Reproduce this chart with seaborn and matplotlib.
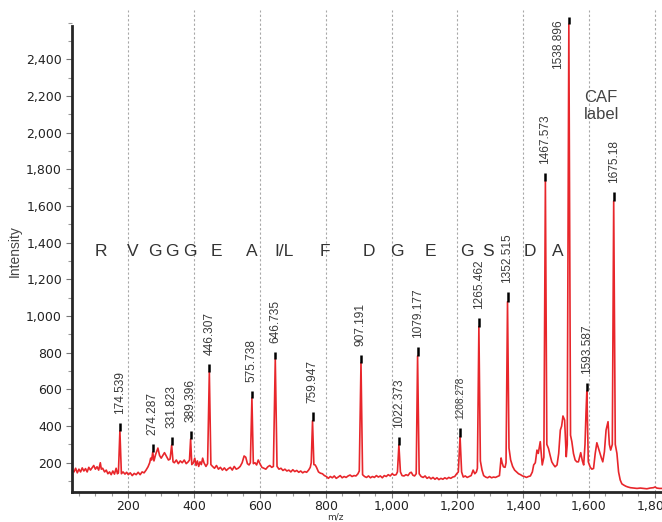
import numpy as np
import pandas as pd
import seaborn as sns
from matplotlib import pyplot as plt
from matplotlib.ticker import FuncFormatter, MultipleLocator

# spectrum trace (m/z, intensity)
mz = [28, 35, 40, 45, 50, 55, 60, 65, 70, 75, 80, 85, 90, 95, 100, 105, 110, 115, 118, 122,
      128, 133, 138, 143, 148, 153, 158, 163, 167, 170, 174.5, 179,
      184, 190, 195, 200, 206, 212, 218, 224, 230, 236, 242, 248, 254, 260, 265, 268, 271,
      274.3, 278, 283, 290, 295, 300, 305, 310, 316, 322, 327,
      331.8, 336, 340, 346, 352, 358, 364, 370, 376, 382, 386,
      389.4, 393, 398, 402, 406, 410, 414, 418, 422, 426, 430, 436, 441,
      446.3, 451, 456, 462, 468, 474, 480, 486, 492, 498, 504, 510, 516, 522, 528, 534, 540, 546, 552, 557, 562, 567, 571,
      575.7, 580, 585, 590, 595, 600, 606, 612, 618, 624, 630, 636, 641,
      646.7, 652, 658, 664, 670, 676, 682, 688, 694, 700, 706, 712, 718, 724, 730, 736, 742, 748, 753, 756,
      759.9, 764, 768, 772, 778, 784, 790, 796, 802, 808, 814, 820, 826, 832, 838, 844, 850, 856, 862, 868, 874, 880, 886, 892, 898, 902,
      907.2, 912, 918, 924, 930, 936, 942, 948, 954, 960, 966, 972, 978, 984, 990, 996, 1002, 1008, 1014, 1018,
      1022.4, 1027, 1032, 1038, 1044, 1050, 1056, 1060, 1065, 1070, 1075,
      1079.2, 1084, 1090, 1096, 1102, 1108, 1114, 1120, 1126, 1132, 1138, 1144, 1150, 1156, 1162, 1168, 1174, 1180, 1186, 1192, 1198, 1203,
      1208.3, 1213, 1218, 1224, 1230, 1236, 1242, 1248, 1253, 1258, 1261,
      1265.5, 1270, 1275, 1280, 1286, 1292, 1298, 1304, 1310, 1316, 1322, 1328, 1333, 1336, 1340, 1345, 1348,
      1352.5, 1357, 1362, 1368, 1374, 1380, 1386, 1392, 1398, 1404, 1410, 1416, 1422, 1428, 1432, 1437, 1442, 1446, 1452, 1458, 1463,
      1467.6, 1472, 1477, 1482, 1487, 1492, 1497, 1503, 1508, 1513, 1517, 1521, 1526, 1531, 1534,
      1538.9, 1544, 1548, 1553, 1558, 1563, 1568, 1575, 1580, 1584, 1588, 1591,
      1593.6, 1598, 1604, 1609, 1614, 1619, 1624, 1632, 1638, 1642, 1647, 1652, 1658, 1662, 1666, 1671,
      1675.2, 1680, 1685, 1690, 1695, 1700, 1706, 1712, 1718, 1726, 1736, 1746, 1756, 1766, 1776, 1786, 1796, 1801, 1806, 1814, 1822]
intensity = [160, 150, 170, 145, 165, 150, 172, 155, 168, 150, 175, 160, 172, 185, 165, 178, 160, 200, 165, 170,
             150, 160, 140, 150, 135, 155, 138, 170, 140, 145, 373, 140,
             150, 138, 148, 135, 145, 130, 142, 135, 148, 135, 150, 145, 160, 178, 200, 225, 215,
             258, 210, 245, 280, 240, 225, 240, 255, 235, 215, 220,
             296, 205, 200, 215, 195, 210, 200, 215, 195, 205, 215,
             329, 190, 200, 225, 185, 210, 180, 205, 190, 225, 200, 180, 195,
             695, 190, 180, 170, 185, 165, 175, 160, 172, 158, 168, 175, 160, 180, 165, 170, 180, 200, 237, 230, 195, 188, 200,
             553, 195, 200, 188, 215, 195, 175, 170, 165, 178, 185, 175, 180,
             764, 180, 165, 170, 158, 165, 155, 160, 150, 162, 152, 158, 148, 155, 145, 152, 148, 160, 175, 200,
             429, 190, 188, 175, 150, 143, 140, 130, 125, 115, 125, 118, 128, 115, 122, 130, 118, 125, 120, 128, 133, 125, 130, 128, 140, 155,
             745, 135, 125, 120, 128, 118, 125, 120, 130, 122, 128, 118, 130, 125, 135, 128, 140, 132, 135, 150,
             297, 150, 130, 128, 135, 130, 145, 148, 132, 128, 140,
             782, 140, 125, 120, 128, 115, 122, 112, 120, 110, 118, 108, 115, 110, 118, 112, 120, 115, 122, 125, 140, 150,
             342, 150, 122, 128, 120, 125, 130, 160, 140, 150, 170,
             942, 210, 160, 130, 122, 118, 125, 118, 122, 120, 125, 130, 226, 200, 178, 175, 200,
             1078, 280, 215, 180, 160, 150, 140, 135, 128, 125, 120, 125, 128, 150, 188, 200, 269, 251, 315, 188, 230,
             1736, 300, 278, 240, 205, 190, 178, 188, 250, 378, 400, 455, 433, 233, 300,
             2591, 350, 315, 250, 215, 205, 205, 255, 210, 188, 300, 471,
             591, 205, 175, 165, 169, 250, 309, 260, 225, 205, 260, 378, 424, 300, 269, 300,
             1627, 300, 251, 150, 106, 85, 78, 72, 68, 64, 62, 60, 62, 60, 58, 62, 64, 68, 62, 60, 60]

# annotated peaks
peak_mz = [174.539, 274.287, 331.823, 389.396, 446.307, 575.738, 646.735, 759.947, 907.191,
           1022.373, 1079.177, 1208.278, 1265.462, 1352.515, 1467.573, 1538.896, 1593.587, 1675.18]
peak_top = [373, 258, 296, 329, 695, 553, 764, 429, 745, 297, 782, 342, 942, 1078, 1736, 2591, 591, 1627]
marker_top = [418, 302, 340, 375, 737, 591, 805, 478, 787, 338, 833, 388, 991, 1129, 1782, 2632, 636, 1674]
peak_text = ['174.539', '274.287', '331.823', '389.396', '446.307', '575.738', '646.735', '759.947', '907.191',
             '1022.373', '1079.177', '1208.278', '1265.462', '1352.515', '1467.573', '1538.896', '1593.587', '1675.18']

# amino acid sequence letters
aa_letters = ['R', 'V', 'G', 'G', 'G', 'E', 'A', 'I/L', 'F', 'D', 'G', 'E', 'G', 'S', 'D', 'A']
aa_pos = [117, 214, 281, 333, 388, 467, 576, 673, 798, 932, 1017, 1117, 1230, 1294, 1421, 1504]
aa_y = 1350

df = pd.DataFrame({'m/z': mz, 'Intensity': intensity})

sns.set_style("ticks")
plt.rcParams['font.family'] = ['DejaVu Sans']

fig = plt.figure(figsize=(6.62, 5.22), dpi=100)
ax = fig.add_axes([0.1083, 0.058, 0.8917, 0.9228])

# dotted guides at the major m/z ticks
for gx in range(200, 1801, 200):
    ax.axvline(gx, color='#a8a8a8', lw=0.8, ls=(0, (2, 2)), zorder=0)

sns.lineplot(data=df, x='m/z', y='Intensity', ax=ax, color='#e8262b', lw=1.2, sort=False)

ax.vlines(peak_mz, peak_top, marker_top, color='black', lw=1.8, zorder=4)

for px, mt, t in zip(peak_mz, marker_top, peak_text):
    if t == '1538.896':
        ax.annotate(t, (px, mt), xytext=(-8, -2), textcoords='offset points', rotation=90,
                    ha='center', va='top', fontsize=8.6, color='#3a3a3a', family='Liberation Sans')
    else:
        fs = 7.3 if t == '1208.278' else 8.6
        ax.annotate(t, (px, mt), xytext=(0, 6.5), textcoords='offset points', rotation=90,
                    ha='center', va='bottom', fontsize=fs, color='#3a3a3a', family='Liberation Sans')

for letter, x in zip(aa_letters, aa_pos):
    ax.text(x, aa_y, letter, ha='center', va='center', fontsize=12.5, color='#333333',
            family='Liberation Sans')

ax.text(1637, 2145, 'CAF\nlabel', ha='center', va='center', fontsize=12, color='#444444',
        family='Liberation Sans', linespacing=1.15)

ax.set_xlim(28, 1822)
ax.set_ylim(42, 2669)

ax.xaxis.set_major_locator(MultipleLocator(200))
ax.xaxis.set_minor_locator(MultipleLocator(50))
ax.yaxis.set_major_locator(MultipleLocator(200))
ax.yaxis.set_minor_locator(MultipleLocator(100))
fmt = FuncFormatter(lambda v, p: f"{v:,.0f}")
ax.xaxis.set_major_formatter(fmt)
ax.yaxis.set_major_formatter(fmt)
ax.set_yticks([v for v in range(200, 2401, 200)])

ax.tick_params(axis='both', which='major', length=4, width=0.8, color='#777777',
               labelsize=9, labelcolor='#222222', pad=3)
ax.tick_params(axis='x', which='major', pad=2)
ax.tick_params(axis='both', which='minor', length=3, width=0.8, color='#999999')

for s in ['top', 'right']:
    ax.spines[s].set_visible(False)
ax.spines['left'].set_linewidth(2)
ax.spines['bottom'].set_linewidth(2)
ax.spines['left'].set_bounds(42, 2580)

ax.set_ylabel('Intensity', fontsize=10, color='#444444', family='Liberation Sans')
ax.yaxis.set_label_coords(-0.085, 0.5)
ax.set_xlabel('m/z', fontsize=6.5, color='#333333')
ax.xaxis.set_label_coords(0.446, -0.044)

fig.savefig('out.png', dpi=100)
